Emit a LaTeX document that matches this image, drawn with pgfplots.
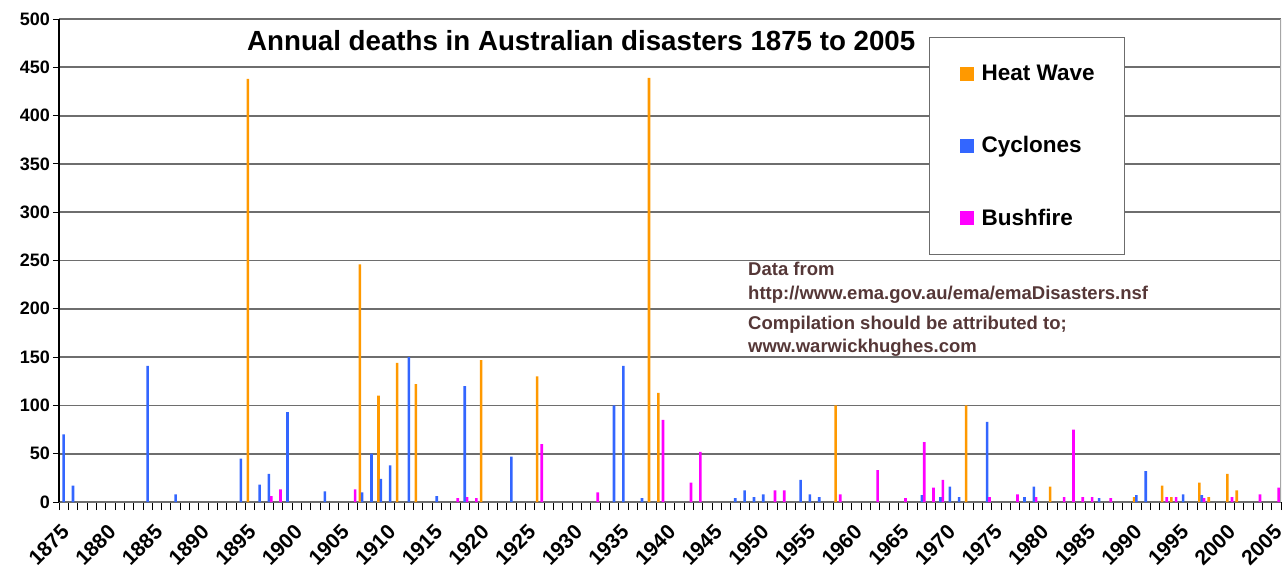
\documentclass[border=0pt]{standalone}
\usepackage{fontspec}
\setmainfont{Liberation Sans}
\usepackage{pgfplots}
\usepackage{pgfplotstable}
\pgfplotsset{compat=1.18}
\definecolor{heat}{HTML}{FF9900}
\definecolor{cycl}{HTML}{3366FF}
\definecolor{bush}{HTML}{FF00FF}
\definecolor{gridc}{HTML}{6E6E6E}
\definecolor{notec}{RGB}{85,55,55}

\pgfplotstableread{
year deaths
1895 438
1907 246
1909 110
1911 144
1913 122
1920 147
1926 130
1938 439
1939 113
1958 100
1972 100
1981 16
1990 5
1993 17
1994 5
1997 20
1998 5
2000 29
2001 12
}\heatdata

\pgfplotstableread{
year deaths
1875 70
1876 17
1884 141
1887 8
1894 45
1896 18
1897 29
1899 93
1903 11
1907 10
1908 50
1909 24
1910 38
1912 150
1915 6
1918 120
1923 47
1934 100
1935 141
1937 4
1947 4
1948 12
1949 5
1950 8
1954 23
1955 8
1956 5
1967 7
1969 5
1970 16
1971 5
1974 83
1978 5
1979 16
1986 4
1990 7
1991 32
1995 8
1997 7
}\cycldata

\pgfplotstableread{
year deaths
1897 6
1898 13
1906 13
1917 4
1918 5
1919 4
1926 60
1932 10
1939 85
1942 20
1943 52
1951 12
1952 12
1958 8
1962 33
1965 4
1967 62
1968 15
1969 23
1974 5
1977 8
1979 5
1982 5
1983 75
1984 5
1985 5
1987 4
1993 5
1994 5
1997 4
2000 5
2003 8
2005 15
}\bushdata

\pgfplotsset{
  sqlegend/.style={legend image code/.code={\fill[##1,draw=none] (0pt,-7pt) rectangle (14pt,7pt);}}
}

\begin{document}
\begin{tikzpicture}
\begin{axis}[
  at={(0pt,0pt)}, anchor=south west,
  scale only axis, width=1222pt, height=483pt,
  xmin=1874.5, xmax=2005.5, ymin=0, ymax=500,
  ybar, bar width=0.28,
  axis lines*=left,
  x axis line style={draw=gridc, line width=1.4pt},
  y axis line style={draw=black, line width=1.2pt},
  xtick={1875,1880,...,2005},
  xticklabels={1875,1880,1885,1890,1895,1900,1905,1910,1915,1920,1925,1930,1935,1940,1945,1950,1955,1960,1965,1970,1975,1980,1985,1990,1995,2000,2005},
  minor xtick={1874.5,1875.5,...,2005.5},
  major x tick style={draw=none},
  minor x tick style={draw=black, line width=0.9pt},
  minor tick length=8pt,
  major tick length=6pt,
  tick align=outside,
  ytick={0,50,...,500},
  y tick style={draw=black, line width=1pt},
  ymajorgrids,
  grid style={draw=gridc, line width=1.8pt},
  /pgf/number format/assume math mode=true,
  x tick label style={rotate=45, anchor=north east, inner sep=0pt, xshift=-13pt, yshift=-8pt, font=\fontsize{21}{22}\selectfont\bfseries},
  y tick label style={font=\fontsize{18}{20}\selectfont\bfseries, inner sep=3pt},
  legend style={at={(0.712,0.9627)}, anchor=north west, draw=gray!85!black, line width=1.2pt, fill=white,
    inner xsep=30pt, inner ysep=27pt, row sep=53.5pt, column sep=8pt,
    font=\fontsize{22.5}{26}\selectfont\bfseries,
    nodes={inner sep=0pt, text height=16pt, text depth=2.7pt}},
  legend cell align=left,
  sqlegend,
]
\addplot[fill=heat, draw=none, bar shift=-0.25] table[x=year, y=deaths] {\heatdata};
\addlegendentry{Heat Wave}
\addplot[fill=cycl, draw=none, bar shift=0] table[x=year, y=deaths] {\cycldata};
\addlegendentry{Cyclones}
\addplot[fill=bush, draw=none, bar shift=0.25] table[x=year, y=deaths] {\bushdata};
\addlegendentry{Bushfire}
\draw[gray!70, line width=1.2pt] (rel axis cs:1,0) -- (rel axis cs:1,1);
\end{axis}
\node[anchor=base west, inner sep=0pt, font=\fontsize{27.7}{30}\selectfont\bfseries] at (188pt,451pt) {Annual deaths in Australian disasters 1875 to 2005};
\begin{scope}[every node/.style={anchor=base west, inner sep=0pt, text=notec, font=\fontsize{18.5}{20}\selectfont\bfseries}]
\node at (689pt,226pt) {Data from};
\node at (689pt,203pt) {http://www.ema.gov.au/ema/emaDisasters.nsf};
\node at (689pt,173pt) {Compilation should be attributed to;};
\node at (689pt,150pt) {www.warwickhughes.com};
\end{scope}
\pgfresetboundingbox
\useasboundingbox (-59pt,-77pt) rectangle (1224pt,502pt);
\end{tikzpicture}
\end{document}
